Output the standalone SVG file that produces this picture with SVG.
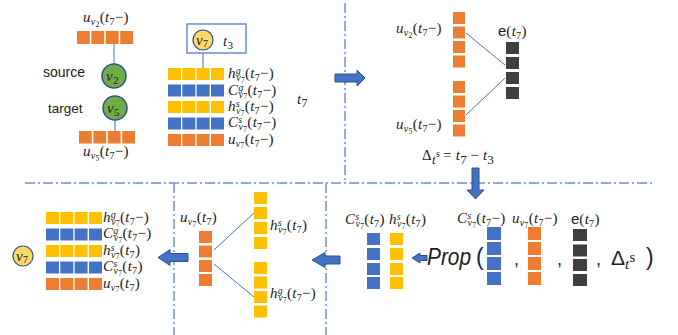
<svg xmlns="http://www.w3.org/2000/svg" width="678" height="335" viewBox="0 0 678 335">
<style>
.m{font-family:"Liberation Serif","DejaVu Serif",serif;font-size:15px;fill:#222;letter-spacing:0.3px}
.i{font-style:italic}
.sb{font-size:10px}
.ssb{font-size:7.5px}
.sans{font-family:"Liberation Sans",Arial,sans-serif;fill:#222;letter-spacing:0}
.y{fill:#FFC000}
.b{fill:#4472C4}
.o{fill:#ED7D31}
.k{fill:#3F3F3F}
.ln{stroke:#4472C4;stroke-width:1;fill:none}
.dash{stroke:#8FAADC;stroke-width:2;fill:none;stroke-dasharray:10 3 2 3}
.arr{fill:#4472C4;stroke:#2F528F;stroke-width:1}
.cg{fill:#70AD47;stroke:#2F528F;stroke-width:1.5}
.cy{fill:#FFD966;stroke:#2F528F;stroke-width:1.2}
</style>
<rect width="678" height="335" fill="#fff"/>

<g id="connectors">
  <line class="dash" x1="345" y1="3" x2="345" y2="180"/>
  <line class="dash" x1="25" y1="183" x2="652" y2="183"/>
  <line class="dash" x1="174" y1="183" x2="174" y2="335"/>
  <line class="dash" x1="326" y1="183" x2="326" y2="335"/>
  <line class="ln" x1="114" y1="44" x2="114" y2="64"/>
  <line class="ln" x1="115" y1="120" x2="115" y2="131"/>
  <line class="ln" x1="203" y1="50" x2="203" y2="68"/>
  <line class="ln" x1="466" y1="33" x2="505" y2="65"/>
  <line class="ln" x1="466" y1="115" x2="505" y2="78"/>
  <line class="ln" x1="214" y1="250" x2="254" y2="213"/>
  <line class="ln" x1="214" y1="264" x2="254" y2="297"/>
  <path class="arr" d="M335,74 H357 V70 L365,78 L357,86 V82 H335 Z"/>
  <path class="arr" d="M472,168 H479 V190 H484 L475.5,199 L467,190 H472 Z"/>
  <path class="arr" d="M158,257.5 L170,249.5 V253.5 H188 V261.5 H170 V265.5 Z"/>
  <path class="arr" d="M312,260 L325,252.5 V256 H340 V264 H325 V267.5 Z"/>
  <path class="arr" d="M412,258 L420,253 V255.5 H427 V260.5 H420 V263 Z"/>
</g>

<g id="source-node">
  <text class="m" x="83" y="22"><tspan class="i">u</tspan><tspan class="i sb" dy="3">v</tspan><tspan class="ssb" dy="1.5">2</tspan><tspan dy="-4.5">(</tspan><tspan class="i">t</tspan><tspan class="sb" dy="3">7</tspan><tspan dy="-3">−)</tspan></text>
  <rect class="o" x="77" y="31" width="12.8" height="13"/>
  <rect class="o" x="91.4" y="31" width="12.8" height="13"/>
  <rect class="o" x="105.8" y="31" width="12.8" height="13"/>
  <rect class="o" x="120.2" y="31" width="12.8" height="13"/>
  <text class="sans" x="43" y="77" font-size="14">source</text>
  <circle class="cg" cx="114" cy="76" r="12"/>
  <text class="m" x="106" y="81" font-size="16"><tspan class="i">v</tspan><tspan font-size="11" dy="3">2</tspan></text>
</g>

<g id="target-node">
  <text class="sans" x="48" y="113" font-size="13.5">target</text>
  <circle class="cg" cx="115" cy="108" r="12"/>
  <text class="m" x="107" y="113" font-size="16"><tspan class="i">v</tspan><tspan font-size="11" dy="3">5</tspan></text>
  <rect class="o" x="79" y="131" width="12.8" height="12.5"/>
  <rect class="o" x="93.4" y="131" width="12.8" height="12.5"/>
  <rect class="o" x="107.8" y="131" width="12.8" height="12.5"/>
  <rect class="o" x="122.2" y="131" width="12.8" height="12.5"/>
  <text class="m" x="83" y="156"><tspan class="i">u</tspan><tspan class="i sb" dy="3">v</tspan><tspan class="ssb" dy="1.5">5</tspan><tspan dy="-4.5">(</tspan><tspan class="i">t</tspan><tspan class="sb" dy="3">7</tspan><tspan dy="-3">−)</tspan></text>
</g>

<g id="v7-memory">
  <rect x="187" y="24" width="59" height="29" fill="#fff" stroke="#4472C4" stroke-width="1.2"/>
  <circle class="cy" cx="203" cy="40" r="10"/>
  <text class="m" x="196" y="44.5" font-size="14"><tspan class="i">v</tspan><tspan font-size="10" dy="2">7</tspan></text>
  <text class="m" x="223" y="46" font-size="17"><tspan class="i">t</tspan><tspan font-size="11" dy="3">3</tspan></text>
  <g>
    <rect class="y" x="168" y="68" width="13" height="12"/><rect class="y" x="182.3" y="68" width="13" height="12"/><rect class="y" x="196.6" y="68" width="13" height="12"/><rect class="y" x="211" y="68" width="13" height="12"/>
    <rect class="b" x="168" y="84.5" width="13" height="12"/><rect class="b" x="182.3" y="84.5" width="13" height="12"/><rect class="b" x="196.6" y="84.5" width="13" height="12"/><rect class="b" x="211" y="84.5" width="13" height="12"/>
    <rect class="y" x="168" y="101" width="13" height="12"/><rect class="y" x="182.3" y="101" width="13" height="12"/><rect class="y" x="196.6" y="101" width="13" height="12"/><rect class="y" x="211" y="101" width="13" height="12"/>
    <rect class="b" x="168" y="117.5" width="13" height="12"/><rect class="b" x="182.3" y="117.5" width="13" height="12"/><rect class="b" x="196.6" y="117.5" width="13" height="12"/><rect class="b" x="211" y="117.5" width="13" height="12"/>
    <rect class="o" x="168" y="134" width="13" height="12"/><rect class="o" x="182.3" y="134" width="13" height="12"/><rect class="o" x="196.6" y="134" width="13" height="12"/><rect class="o" x="211" y="134" width="13" height="12"/>
  </g>
  <text class="m" x="228" y="78"><tspan class="i">h</tspan><tspan class="i sb" dy="-4">g</tspan><tspan class="i sb" dx="-5" dy="7">v</tspan><tspan class="ssb" dy="1.5">7</tspan><tspan dy="-4.5">(</tspan><tspan class="i">t</tspan><tspan class="sb" dy="3">7</tspan><tspan dy="-3">−)</tspan></text>
  <text class="m" x="228" y="94.5"><tspan class="i">C</tspan><tspan class="i sb" dy="-4">g</tspan><tspan class="i sb" dx="-5" dy="7">v</tspan><tspan class="ssb" dy="1.5">7</tspan><tspan dy="-4.5">(</tspan><tspan class="i">t</tspan><tspan class="sb" dy="3">7</tspan><tspan dy="-3">−)</tspan></text>
  <text class="m" x="228" y="111"><tspan class="i">h</tspan><tspan class="i sb" dy="-4">s</tspan><tspan class="i sb" dx="-4" dy="7">v</tspan><tspan class="ssb" dy="1.5">7</tspan><tspan dy="-4.5">(</tspan><tspan class="i">t</tspan><tspan class="sb" dy="3">7</tspan><tspan dy="-3">−)</tspan></text>
  <text class="m" x="228" y="127"><tspan class="i">C</tspan><tspan class="i sb" dy="-4">s</tspan><tspan class="i sb" dx="-4" dy="7">v</tspan><tspan class="ssb" dy="1.5">7</tspan><tspan dy="-4.5">(</tspan><tspan class="i">t</tspan><tspan class="sb" dy="3">7</tspan><tspan dy="-3">−)</tspan></text>
  <text class="m" x="228" y="143.5"><tspan class="i">u</tspan><tspan class="i sb" dy="3">v</tspan><tspan class="ssb" dy="1.5">7</tspan><tspan dy="-4.5">(</tspan><tspan class="i">t</tspan><tspan class="sb" dy="3">7</tspan><tspan dy="-3">−)</tspan></text>
  <text class="m" x="297" y="104" font-size="18"><tspan class="i">t</tspan><tspan font-size="12" dy="3">7</tspan></text>
</g>

<g id="edge-feature">
  <text class="m" x="396" y="33"><tspan class="i">u</tspan><tspan class="i sb" dy="3">v</tspan><tspan class="ssb" dy="1.5">2</tspan><tspan dy="-4.5">(</tspan><tspan class="i">t</tspan><tspan class="sb" dy="3">7</tspan><tspan dy="-3">−)</tspan></text>
  <text class="m" x="396" y="129"><tspan class="i">u</tspan><tspan class="i sb" dy="3">v</tspan><tspan class="ssb" dy="1.5">5</tspan><tspan dy="-4.5">(</tspan><tspan class="i">t</tspan><tspan class="sb" dy="3">7</tspan><tspan dy="-3">−)</tspan></text>
  <rect class="o" x="453" y="12" width="12" height="12"/><rect class="o" x="453" y="26.5" width="12" height="12"/><rect class="o" x="453" y="41" width="12" height="12"/><rect class="o" x="453" y="55.5" width="12" height="12"/>
  <rect class="o" x="453" y="81" width="12" height="12"/><rect class="o" x="453" y="95.5" width="12" height="12"/><rect class="o" x="453" y="110" width="12" height="12"/><rect class="o" x="453" y="124.5" width="12" height="12"/>
  <text class="m" x="498" y="36"><tspan class="sans">e</tspan>(<tspan class="i">t</tspan><tspan class="sb" dy="3">7</tspan><tspan dy="-3">)</tspan></text>
  <rect class="k" x="506" y="42" width="13" height="12"/><rect class="k" x="506" y="57" width="13" height="12"/><rect class="k" x="506" y="72" width="13" height="12"/><rect class="k" x="506" y="87" width="13" height="12"/>
  <text class="m" x="422" y="160" font-size="19">Δ<tspan class="i" font-size="13" dy="4">t</tspan><tspan font-size="10" dy="-7">s</tspan><tspan dx="3" dy="3">=</tspan><tspan class="i" dx="4">t</tspan><tspan font-size="13" dy="4">7</tspan><tspan dx="3" dy="-4">−</tspan><tspan class="i" dx="4">t</tspan><tspan font-size="13" dy="4">3</tspan></text>
</g>

<g id="prop">
  <text class="m" x="345" y="224"><tspan class="i">C</tspan><tspan class="i sb" dy="-4">s</tspan><tspan class="i sb" dx="-4" dy="7">v</tspan><tspan class="ssb" dy="1.5">7</tspan><tspan dy="-4.5">(</tspan><tspan class="i">t</tspan><tspan class="sb" dy="3">7</tspan><tspan dy="-3">)</tspan></text>
  <text class="m" x="389" y="224"><tspan class="i">h</tspan><tspan class="i sb" dy="-4">s</tspan><tspan class="i sb" dx="-4" dy="7">v</tspan><tspan class="ssb" dy="1.5">7</tspan><tspan dy="-4.5">(</tspan><tspan class="i">t</tspan><tspan class="sb" dy="3">7</tspan><tspan dy="-3">)</tspan></text>
  <rect class="b" x="367" y="233" width="13" height="12"/><rect class="b" x="367" y="248" width="13" height="12"/><rect class="b" x="367" y="263" width="13" height="12"/><rect class="b" x="367" y="277" width="13" height="12"/>
  <rect class="y" x="390" y="233" width="13" height="12"/><rect class="y" x="390" y="248" width="13" height="12"/><rect class="y" x="390" y="263" width="13" height="12"/><rect class="y" x="390" y="277" width="13" height="12"/>
  <text class="sans" x="427" y="265" font-size="23" font-style="italic" textLength="44" lengthAdjust="spacingAndGlyphs">Prop</text>
  <text class="sans" x="476" y="265" font-size="23">(</text>
  <text class="m" x="457" y="223"><tspan class="i">C</tspan><tspan class="i sb" dy="-4">s</tspan><tspan class="i sb" dx="-4" dy="7">v</tspan><tspan class="ssb" dy="1.5">7</tspan><tspan dy="-4.5">(</tspan><tspan class="i">t</tspan><tspan class="sb" dy="3">7</tspan><tspan dy="-3">−)</tspan></text>
  <rect class="b" x="487" y="227" width="14" height="13"/><rect class="b" x="487" y="242" width="14" height="13"/><rect class="b" x="487" y="257" width="14" height="13"/><rect class="b" x="487" y="272" width="14" height="13"/>
  <text class="sans" x="514" y="265" font-size="18">,</text>
  <text class="m" x="512" y="223"><tspan class="i">u</tspan><tspan class="i sb" dy="3">v</tspan><tspan class="ssb" dy="1.5">7</tspan><tspan dy="-4.5">(</tspan><tspan class="i">t</tspan><tspan class="sb" dy="3">7</tspan><tspan dy="-3">−)</tspan></text>
  <rect class="o" x="528" y="227" width="13" height="13"/><rect class="o" x="528" y="242" width="13" height="13"/><rect class="o" x="528" y="257" width="13" height="13"/><rect class="o" x="528" y="272" width="13" height="13"/>
  <text class="sans" x="557" y="265" font-size="18">,</text>
  <text class="m" x="571" y="224"><tspan class="sans">e</tspan>(<tspan class="i">t</tspan><tspan class="sb" dy="3">7</tspan><tspan dy="-3">)</tspan></text>
  <rect class="k" x="573" y="229" width="14" height="12"/><rect class="k" x="573" y="244.5" width="14" height="12"/><rect class="k" x="573" y="259" width="14" height="12"/><rect class="k" x="573" y="274" width="14" height="12"/>
  <text class="sans" x="596" y="265" font-size="18">,</text>
  <text class="sans" x="611" y="265" font-size="21">Δ<tspan class="m i" font-size="14" dy="4">t</tspan><tspan class="m" font-size="12" dy="-7">s</tspan></text>
  <text class="sans" x="646" y="265" font-size="23">)</text>
</g>

<g id="update">
  <text class="m" x="180" y="222"><tspan class="i">u</tspan><tspan class="i sb" dy="3">v</tspan><tspan class="ssb" dy="1.5">7</tspan><tspan dy="-4.5">(</tspan><tspan class="i">t</tspan><tspan class="sb" dy="3">7</tspan><tspan dy="-3">)</tspan></text>
  <rect class="o" x="199" y="231" width="13" height="12"/><rect class="o" x="199" y="245.5" width="13" height="12"/><rect class="o" x="199" y="260" width="13" height="12"/><rect class="o" x="199" y="274" width="13" height="12"/>
  <rect class="y" x="254" y="192" width="13" height="12"/><rect class="y" x="254" y="207" width="13" height="12"/><rect class="y" x="254" y="222" width="13" height="12"/><rect class="y" x="254" y="237" width="13" height="12"/>
  <rect class="y" x="254" y="262" width="13" height="12"/><rect class="y" x="254" y="276.5" width="13" height="12"/><rect class="y" x="254" y="291" width="13" height="12"/><rect class="y" x="254" y="305.5" width="13" height="12"/>
  <text class="m" x="270" y="230"><tspan class="i">h</tspan><tspan class="i sb" dy="-4">s</tspan><tspan class="i sb" dx="-4" dy="7">v</tspan><tspan class="ssb" dy="1.5">7</tspan><tspan dy="-4.5">(</tspan><tspan class="i">t</tspan><tspan class="sb" dy="3">7</tspan><tspan dy="-3">)</tspan></text>
  <text class="m" x="270" y="298"><tspan class="i">h</tspan><tspan class="i sb" dy="-4">g</tspan><tspan class="i sb" dx="-5" dy="7">v</tspan><tspan class="ssb" dy="1.5">7</tspan><tspan dy="-4.5">(</tspan><tspan class="i">t</tspan><tspan class="sb" dy="3">7</tspan><tspan dy="-3">−)</tspan></text>
</g>

<g id="v7-result">
  <circle class="cy" cx="23" cy="256" r="10"/>
  <text class="m" x="16" y="260.5" font-size="14"><tspan class="i">v</tspan><tspan font-size="10" dy="2">7</tspan></text>
  <rect class="y" x="46" y="212" width="13" height="12"/><rect class="y" x="60.3" y="212" width="13" height="12"/><rect class="y" x="74.6" y="212" width="13" height="12"/><rect class="y" x="89" y="212" width="13" height="12"/>
  <rect class="b" x="46" y="228.5" width="13" height="12"/><rect class="b" x="60.3" y="228.5" width="13" height="12"/><rect class="b" x="74.6" y="228.5" width="13" height="12"/><rect class="b" x="89" y="228.5" width="13" height="12"/>
  <rect class="y" x="46" y="245" width="13" height="12"/><rect class="y" x="60.3" y="245" width="13" height="12"/><rect class="y" x="74.6" y="245" width="13" height="12"/><rect class="y" x="89" y="245" width="13" height="12"/>
  <rect class="b" x="46" y="261.5" width="13" height="12"/><rect class="b" x="60.3" y="261.5" width="13" height="12"/><rect class="b" x="74.6" y="261.5" width="13" height="12"/><rect class="b" x="89" y="261.5" width="13" height="12"/>
  <rect class="o" x="46" y="278" width="13" height="12"/><rect class="o" x="60.3" y="278" width="13" height="12"/><rect class="o" x="74.6" y="278" width="13" height="12"/><rect class="o" x="89" y="278" width="13" height="12"/>
  <text class="m" x="103" y="221.5"><tspan class="i">h</tspan><tspan class="i sb" dy="-4">g</tspan><tspan class="i sb" dx="-5" dy="7">v</tspan><tspan class="ssb" dy="1.5">7</tspan><tspan dy="-4.5">(</tspan><tspan class="i">t</tspan><tspan class="sb" dy="3">7</tspan><tspan dy="-3">−)</tspan></text>
  <text class="m" x="103" y="238"><tspan class="i">C</tspan><tspan class="i sb" dy="-4">g</tspan><tspan class="i sb" dx="-5" dy="7">v</tspan><tspan class="ssb" dy="1.5">7</tspan><tspan dy="-4.5">(</tspan><tspan class="i">t</tspan><tspan class="sb" dy="3">7</tspan><tspan dy="-3">−)</tspan></text>
  <text class="m" x="103" y="254.5"><tspan class="i">h</tspan><tspan class="i sb" dy="-4">s</tspan><tspan class="i sb" dx="-4" dy="7">v</tspan><tspan class="ssb" dy="1.5">7</tspan><tspan dy="-4.5">(</tspan><tspan class="i">t</tspan><tspan class="sb" dy="3">7</tspan><tspan dy="-3">)</tspan></text>
  <text class="m" x="103" y="271"><tspan class="i">C</tspan><tspan class="i sb" dy="-4">s</tspan><tspan class="i sb" dx="-4" dy="7">v</tspan><tspan class="ssb" dy="1.5">7</tspan><tspan dy="-4.5">(</tspan><tspan class="i">t</tspan><tspan class="sb" dy="3">7</tspan><tspan dy="-3">)</tspan></text>
  <text class="m" x="103" y="287.5"><tspan class="i">u</tspan><tspan class="i sb" dy="3">v</tspan><tspan class="ssb" dy="1.5">7</tspan><tspan dy="-4.5">(</tspan><tspan class="i">t</tspan><tspan class="sb" dy="3">7</tspan><tspan dy="-3">)</tspan></text>
</g>
</svg>
